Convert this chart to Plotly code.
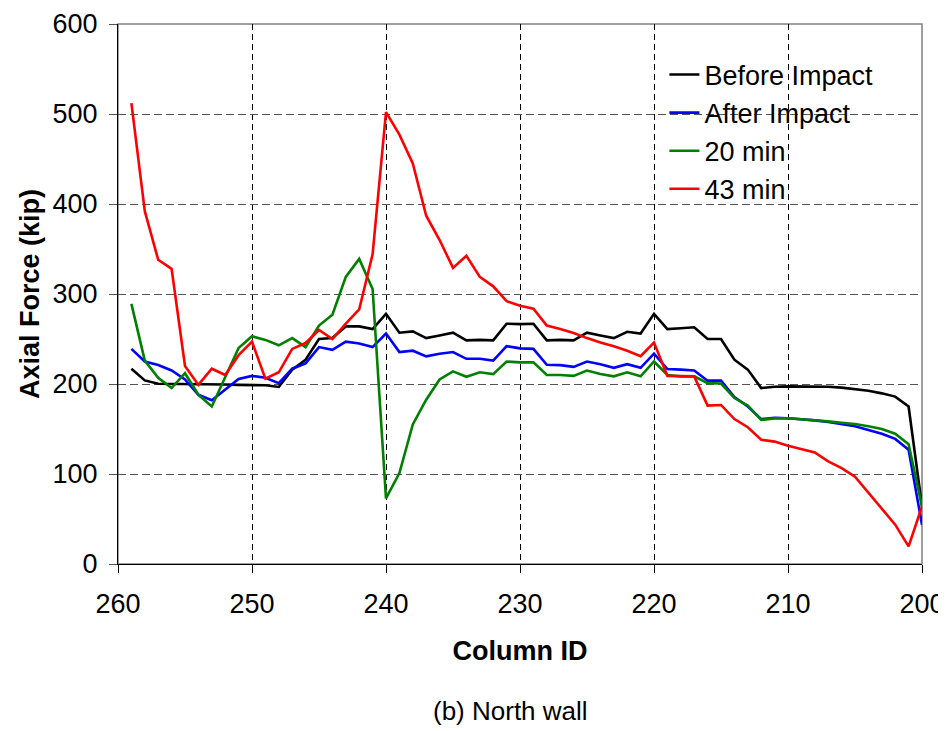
import plotly.graph_objects as go

columns = list(range(259, 199, -1))

before_impact = [217, 204, 200.3, 200.3, 200, 200, 200, 199.5, 199, 199, 198.6, 196.7, 216, 227, 250, 251, 264, 264, 261, 278,
                 257, 258.5, 251, 254, 257, 248.5, 249, 248.5, 267, 266.5, 267, 248.5, 249, 248.5, 257, 254, 251, 258, 256, 278,
                 261, 262, 263, 250, 250, 227, 216, 195.5, 197, 197.4, 197.4, 197, 197, 196, 194.4, 192.5, 189.6, 186, 175, 64]
after_impact = [239, 225, 221, 215, 205, 188, 182, 194, 205.5, 209, 207, 201, 217, 223, 241, 238, 247, 245, 241, 256,
                235.5, 237, 230.7, 233.7, 235.5, 228, 228, 226, 242, 239.6, 239, 221.4, 221, 219, 225, 222, 218, 222, 218, 233.7,
                216.6, 216, 215, 203.7, 203.7, 185.5, 175, 161, 162.5, 162, 161, 159.6, 157.7, 155.5, 153, 149, 144.8, 139, 127, 43.7]
min20 = [289, 226, 207, 195.5, 212, 188, 175, 208, 240, 253, 249, 243, 251, 241, 265, 277, 319, 339, 305.6, 73,
         101, 155, 182.5, 205, 214, 208, 213, 211, 225, 224, 224, 210, 210, 209, 215, 211, 208.5, 213, 208.5, 225,
         210, 208.5, 208.5, 201, 200.5, 184.4, 176, 160, 161.8, 162, 161, 160, 158.5, 157, 155.5, 153, 150, 144.8, 133, 64]
min43 = [512, 392, 338, 328, 220, 199, 217, 210, 232, 247, 206, 213, 239, 245.5, 260, 250, 267, 283, 344, 502,
         477, 445, 387, 360, 329, 342.5, 319, 308.5, 292, 287, 283.7, 265, 261, 256.6, 251, 246, 242, 237, 231, 246,
         209, 208.5, 208.5, 176, 176.7, 161, 152, 138, 136, 131.4, 127.7, 124, 114, 106.6, 97, 79, 61, 43.7, 19.6, 64]

series_names = ["Before Impact", "After Impact", "20 min", "43 min"]
series_values = [before_impact, after_impact, min20, min43]
series_colors = ["#000000", "#0000FF", "#008000", "#FF0000"]

x_ticks = [260, 250, 240, 230, 220, 210, 200]
y_ticks = [0, 100, 200, 300, 400, 500, 600]

FONT = "Liberation Sans, Arial, sans-serif"

fig = go.Figure()
for name, vals, col in zip(series_names, series_values, series_colors):
    fig.add_trace(go.Scatter(x=columns, y=vals, name=name, mode="lines",
                             line=dict(color=col, width=2.6)))

fig.update_layout(
    width=946, height=731,
    margin=dict(l=109.5, r=32.3, t=16.3, b=174.7),
    paper_bgcolor="white", plot_bgcolor="white",
    font=dict(family=FONT, size=27, color="black"),
    showlegend=True,
    legend=dict(x=0.6796, y=0.951, xanchor="left", yanchor="top",
                bgcolor="rgba(255,255,255,0)", font=dict(size=27, family=FONT),
                itemwidth=30),
    xaxis=dict(range=[260, 200], tickvals=x_ticks, ticks="outside", ticklen=8,
               tickcolor="black", showline=True, linecolor="black", linewidth=1.3,
               showgrid=True, gridcolor="black", gridwidth=1, griddash="6px,4px",
               zeroline=False, tickfont=dict(size=27), automargin=False,
               ticklabelstandoff=7,
               title=dict(text="<b>Column ID</b>", font=dict(size=27), standoff=23)),
    yaxis=dict(range=[0, 600], tickvals=y_ticks, ticks="outside", ticklen=8,
               tickcolor="#555555", showline=True, linecolor="black", linewidth=1.3,
               showgrid=True, gridcolor="#555555", gridwidth=1, griddash="8px,4px",
               zeroline=False, tickfont=dict(size=27), automargin=False,
               ticklabelstandoff=6,
               title=dict(text="<b>Axial Force (kip)</b>", font=dict(size=27), standoff=4)),
    shapes=[dict(type="rect", xref="paper", yref="paper", x0=0, x1=1, y0=0, y1=1,
                 line=dict(color="#808080", width=1.5), layer="below")],
    annotations=[dict(text="(b) North wall", xref="paper", yref="paper", x=0.488, y=-0.272,
                      xanchor="center", yanchor="middle", showarrow=False,
                      font=dict(size=26, family=FONT))],
)

fig.write_html("out.html")
